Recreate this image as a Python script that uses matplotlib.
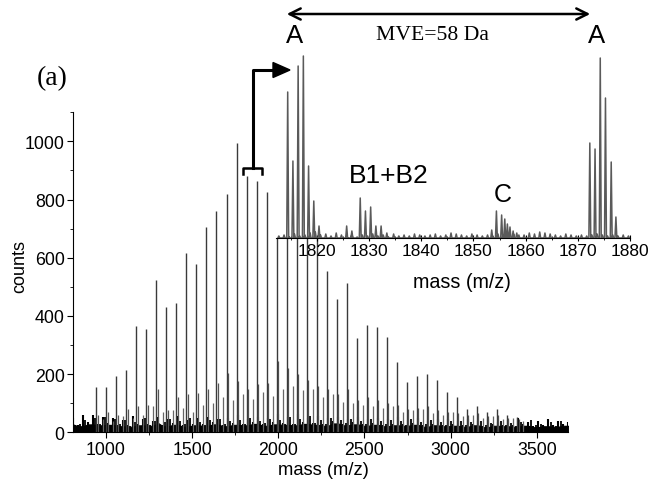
# MALDI spectrum with 58 Da repeat + zoomed inset on one repeat unit
import numpy as np
import matplotlib
matplotlib.use("Agg")
import matplotlib.pyplot as plt
from matplotlib.lines import Line2D
from matplotlib.patches import Polygon, FancyArrowPatch
from matplotlib.ticker import MultipleLocator

SANS = ["Liberation Sans", "DejaVu Sans"]
SERIF = ["Liberation Serif", "DejaVu Serif"]
plt.rcParams["font.family"] = SANS

# ---- main spectrum: main series (58 Da apart) ----
main_mass = [946, 1004, 1062, 1120, 1178, 1236, 1294, 1352, 1410, 1468,
             1526, 1584, 1642, 1700, 1758, 1816, 1874, 1932, 1990, 2048,
             2106, 2164, 2222, 2280, 2338, 2396, 2454, 2512, 2570, 2628,
             2686, 2744, 2802, 2860, 2918, 2976, 3034, 3092, 3150, 3208,
             3266, 3324, 3382]
main_counts = [155, 155, 195, 215, 365, 355, 525, 430, 445, 615,
               580, 705, 760, 820, 995, 880, 865, 825, 1025, 1080,
               950, 870, 720, 554, 457, 512, 325, 368, 363, 329,
               242, 174, 193, 202, 179, 139, 122, 79, 90, 70,
               79, 58, 54]
# satellite peaks (~ +11 Da and ~ +36 Da from each main peak)
sat_b_counts = [60, 70, 60, 80, 90, 95, 150, 75, 120, 130,
                135, 150, 170, 205, 175, 150, 165, 170, 245, 220,
                200, 180, 160, 150, 130, 150, 110, 120, 110, 100,
                95, 80, 85, 90, 75, 70, 65, 60, 65, 55,
                60, 50, 45]
sat_c_counts = [45, 40, 55, 50, 60, 90, 70, 75, 85, 70,
                95, 100, 120, 110, 130, 115, 140, 125, 150, 160,
                145, 150, 120, 130, 105, 100, 95, 90, 85, 90,
                70, 75, 80, 65, 60, 70, 55, 60, 50, 55,
                45, 50, 40]
# baseline noise, sampled every 29 Da from 810 Da
noise_counts = [50, 26, 58, 34, 60, 30, 52,
                32, 50, 26, 42, 24, 56, 30, 46, 28, 40, 52, 26, 44, 32, 56, 24, 42, 30,
                48, 28, 54, 34, 44, 26, 50, 32, 58, 30, 46, 36, 54, 28, 48, 34, 62, 32,
                52, 30, 64, 36, 50, 32, 56, 28, 48, 38, 54, 30, 44, 34, 52, 28, 46,
                32, 50, 26, 44, 30, 54, 28, 42, 32, 48, 24, 40, 30, 46, 26, 44, 28,
                40, 24, 44, 30, 38, 22, 46, 28, 36, 26, 42, 24, 48, 28, 34, 22, 40, 26,
                44, 24, 38, 28, 34]
noise_mass = 810 + 29 * np.arange(len(noise_counts))

# ---- inset: one repeat unit 1812-1880 ----
inset_mass = [1814.4, 1815.4, 1816.4, 1817.4, 1818.4, 1819.4, 1820.4,
              1825.7, 1826.7, 1828.3, 1829.3, 1830.3, 1831.3, 1832.3, 1833.4,
              1853.5, 1854.4, 1855.4, 1856.0, 1856.5, 1857.0, 1857.6, 1858.3,
              1872.3, 1873.3, 1874.3, 1875.3, 1876.4, 1877.3]
inset_counts = [146, 77, 172, 182, 72, 37, 12,
                12, 7, 40, 27, 31, 12, 12, 5,
                8, 27, 23, 19, 14, 11, 7, 5,
                95, 89, 180, 140, 76, 21]
inset_noise = [2, 3, 1, 4, 2, 3, 5, 6, 3, 4, 2, 5, 3, 2, 4, 1, 3, 2, 4, 2,
               3, 1, 4, 2, 3, 2, 4, 3, 2, 3, 4, 2, 3, 5, 4, 3, 2, 4, 3, 2,
               3, 2, 4, 3, 2, 4, 3, 3, 5, 4, 6, 5, 4, 3, 2, 4, 3, 2, 3, 2,
               3, 4, 3, 2, 3, 2, 3, 2]
inset_noise_mass = 1812.7 + np.arange(len(inset_noise))

W, H = 652, 481
def fx(x): return x / W
def fy(y): return 1 - y / H

fig = plt.figure(figsize=(6.52, 4.81), dpi=100)
ax = fig.add_axes([fx(73), fy(433.3), fx(568) - fx(73), fy(113.2) - fy(433.3)])

noise = np.array(noise_counts)
floor = 0.8 * np.minimum(noise, np.roll(noise, 1))
ax.fill_between(noise_mass, 0, floor, color="black", lw=0.8, zorder=1)
ax.vlines(noise_mass, 0, noise, color="black", lw=1.5, zorder=1)
ax.vlines(noise_mass + 14, 0, 0.85 * np.roll(noise, 2), color="black", lw=1.3, zorder=1)
ax.vlines(np.array(main_mass) + 11, 0, sat_b_counts, color="#555555", lw=0.9, zorder=2)
ax.vlines(np.array(main_mass) + 36, 0, sat_c_counts, color="#666666", lw=0.9, zorder=2)
ax.vlines(main_mass, 0, main_counts, color="#3a3a3a", lw=1.0, zorder=3)

ax.set_xlim(810, 3680)
ax.set_ylim(0, 1100)
for s in ("top", "right"):
    ax.spines[s].set_visible(False)
ax.xaxis.set_major_locator(MultipleLocator(500))
ax.xaxis.set_minor_locator(MultipleLocator(250))
ax.yaxis.set_major_locator(MultipleLocator(200))
ax.yaxis.set_minor_locator(MultipleLocator(100))
ax.set_xticks([1000, 1500, 2000, 2500, 3000, 3500])
ax.tick_params(which="major", direction="out", length=4, labelsize=12.8, pad=2)
ax.tick_params(which="minor", direction="out", length=2.5)
fig.text(fx(20), fy(267), "counts", rotation=90, ha="center", va="center", fontsize=13)
fig.text(fx(323), fy(471), "mass (m/z)", ha="center", va="center", fontsize=13.2)

# inset
ins = fig.add_axes([fx(275.7), fy(239), fx(630) - fx(275.7), fy(49) - fy(239)])
ins.set_facecolor("white")
pk = sorted(zip(list(inset_mass) + list(inset_noise_mass), list(inset_counts) + list(inset_noise)))
xs, ys = [], []
for m, h in pk:
    xs += [m - 0.18, m, m + 0.18]
    ys += [0, h, 0]
ins.plot(xs, ys, color="#5a5a5a", lw=1.1)
ins.set_xlim(1812.1, 1880)
ins.set_ylim(0, 190)
ins.yaxis.set_visible(False)
for s in ("top", "right", "left"):
    ins.spines[s].set_visible(False)
ins.xaxis.set_minor_locator(MultipleLocator(5))
ins.set_xticks([1820, 1830, 1840, 1850, 1860, 1870, 1880])
ins.tick_params(which="major", direction="inout", length=5, labelsize=12.5, pad=1)
ins.tick_params(which="minor", direction="inout", length=3)
fig.text(fx(462), fy(282), "mass (m/z)", ha="center", va="center", fontsize=14.2)

# labels
fig.text(fx(52), fy(79), "(a)", family=SERIF, fontsize=20, ha="center", va="center")
fig.text(fx(295), fy(36), "A", fontsize=18.5, ha="center", va="center")
fig.text(fx(597), fy(36), "A", fontsize=18.5, ha="center", va="center")
fig.text(fx(432), fy(36), "MVE=58 Da", family=SERIF, fontsize=15.6, ha="center", va="center")
fig.text(fx(389), fy(176), "B1+B2", fontsize=19, ha="center", va="center")
fig.text(fx(503), fy(195), "C", fontsize=18, ha="center", va="center")

# double arrow
tf = fig.transFigure
fig.patches.append(FancyArrowPatch((fx(284), fy(15)), (fx(593), fy(15)), transform=tf,
                                   arrowstyle="<->,head_length=8,head_width=4", lw=1.8, color="black"))

# bracket + bent arrow from main peaks to inset
fig.lines.append(Line2D([fx(242.5), fx(242.5), fx(261.5), fx(261.5)],
                        [fy(175), fy(168.5), fy(168.5), fy(175)], transform=tf, color="black", lw=1.8))
fig.lines.append(Line2D([fx(252.5), fx(252.5), fx(275)], [fy(168.5), fy(71), fy(71)],
                        transform=tf, color="black", lw=2.2))
fig.patches.append(Polygon([(fx(273), fy(63.5)), (fx(290), fy(71)), (fx(273), fy(78.5))],
                           closed=True, transform=tf, color="black"))

fig.savefig("out.png", dpi=100)
